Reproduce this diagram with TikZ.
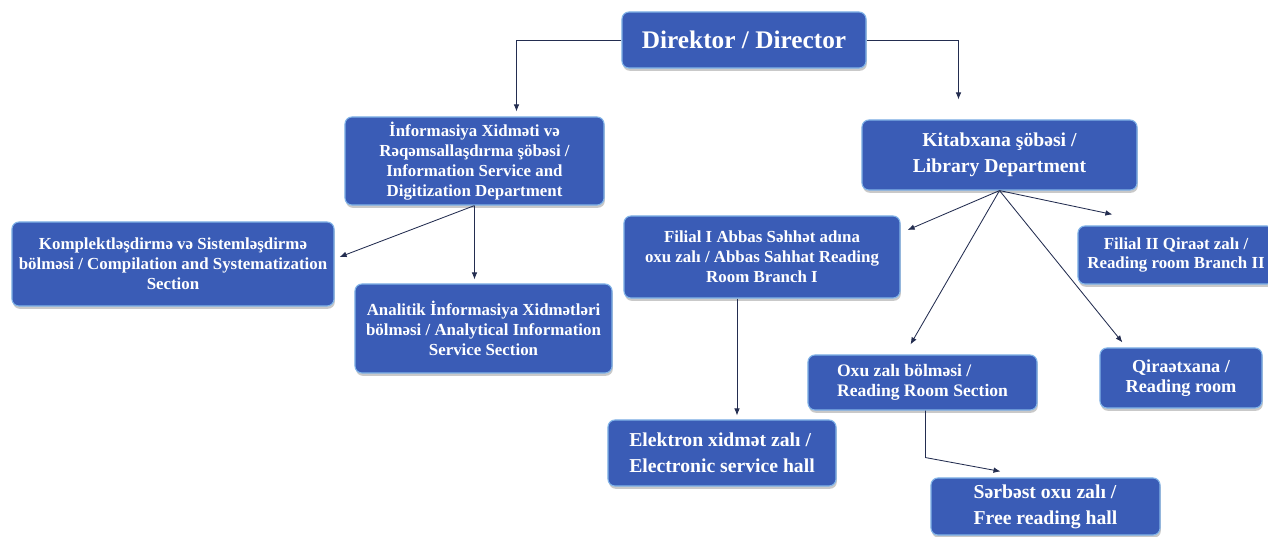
\documentclass[tikz,border=0pt]{standalone}
\usepackage{fontspec}
\setmainfont{Liberation Serif}
\usetikzlibrary{arrows.meta,shadows}

\definecolor{boxblue}{RGB}{58,92,182}
\definecolor{boxedge}{RGB}{130,180,232}
\definecolor{linecol}{RGB}{35,45,80}

\tikzset{
  box/.style={rectangle, rounded corners=5pt, fill=boxblue, draw=boxedge,
    line width=0.8pt, text=white, inner sep=2pt, align=center,
    drop shadow={shadow xshift=0.6pt, shadow yshift=-2pt, fill=black!60, opacity=0.35}},
  conn/.style={draw=linecol, line width=0.6pt, -{Latex[length=5pt,width=4pt]}},
  txtbig/.style={font=\bfseries\fontsize{18}{21}\selectfont},
  txtmid/.style={font=\bfseries\fontsize{14}{18.5}\selectfont},
  txtsml/.style={font=\bfseries\fontsize{12}{14.2}\selectfont},
}

\begin{document}
\begin{tikzpicture}[x=0.025cm,y=-0.025cm]
    \path[use as bounding box, fill=white] (0,0) rectangle (1268,537);

        % boxes -- top
    \node[box,txtbig,minimum width=6.1cm,minimum height=1.4cm] (dir) at (744,40) {Direktor / Director};

    \node[box,txtsml,minimum width=6.475cm,minimum height=2.2cm] (info) at (474.5,161)
        {İnformasiya Xidməti və\\Rəqəmsallaşdırma şöbəsi /\\Information Service and\\Digitization Department};
    \node[box,txtmid,minimum width=6.875cm,minimum height=1.75cm] (lib) at (999.5,155)
        {Kitabxana şöbəsi /\\Library Department};

        % boxes -- left branch
    \node[box,txtsml,minimum width=8.05cm,minimum height=2.1cm] (kompl) at (173,264)
        {Komplektləşdirmə və Sistemləşdirmə\\bölməsi / Compilation and Systematization\\Section};
    \node[box,txtsml,minimum width=6.425cm,minimum height=2.225cm] (anal) at (483.5,328.5)
        {Analitik İnformasiya Xidmətləri\\bölməsi / Analytical Information\\Service Section};

        % boxes -- right branch
    \node[box,txtsml,minimum width=6.9cm,minimum height=2.05cm] (fil1) at (762,257)
        {Filial I Abbas Səhhət adına\\oxu zalı / Abbas Sahhat Reading\\Room Branch I};
    \node[box,txtsml,minimum width=4.9cm,minimum height=1.45cm] (fil2) at (1176,255)
        {Filial II Qiraət zalı /\\Reading room Branch II};
    \node[box,txtsml,font=\bfseries\fontsize{12.5}{14.5}\selectfont,align=left,minimum width=5.725cm,minimum height=1.375cm] (oxu) at (922.5,382.5)
        {Oxu zalı bölməsi /\\Reading Room Section};
    \node[box,txtsml,font=\bfseries\fontsize{13}{14.5}\selectfont,minimum width=4.05cm,minimum height=1.5cm] (qir) at (1181,378)
        {Qiraətxana /\\Reading room};
    \node[box,txtmid,align=left,minimum width=5.7cm,minimum height=1.65cm] (elek) at (722,453)
        {Elektron xidmət zalı /\\Electronic service hall};
    \node[box,txtmid,align=left,minimum width=5.725cm,minimum height=1.425cm] (serb) at (1045.5,506.5)
        {Sərbəst oxu zalı /\\Free reading hall};

        % connectors
    \draw[conn] (dir.west) -| ([shift={(42,-5)}]info.north);
    \draw[conn] (dir.east) -| ([shift={(-41,-20)}]lib.north);

    \draw[conn] (info.south) -- ([shift={(5,-7)}]kompl.east);
    \draw[conn] (info.south) -- ([shift={(-9,-4)}]anal.north);

    \draw[conn] (lib.south) -- ([shift={(7,-27)}]fil1.east);
    \draw[conn] (lib.south) -- ([shift={(35,-11)}]fil2.north west);
    \draw[conn] (lib.south) -- ([shift={(-12,-10)}]oxu.north);
    \draw[conn] (lib.south) -- ([shift={(23,-5)}]qir.north west);

    \draw[conn] ([shift={(-25,0)}]fil1.south) -- ([shift={(15,-4)}]elek.north);
    \draw[conn] ([shift={(3,0)}]oxu.south) -- ++(0,47) -- ([shift={(-45,-6)}]serb.north);
\end{tikzpicture}
\end{document}
